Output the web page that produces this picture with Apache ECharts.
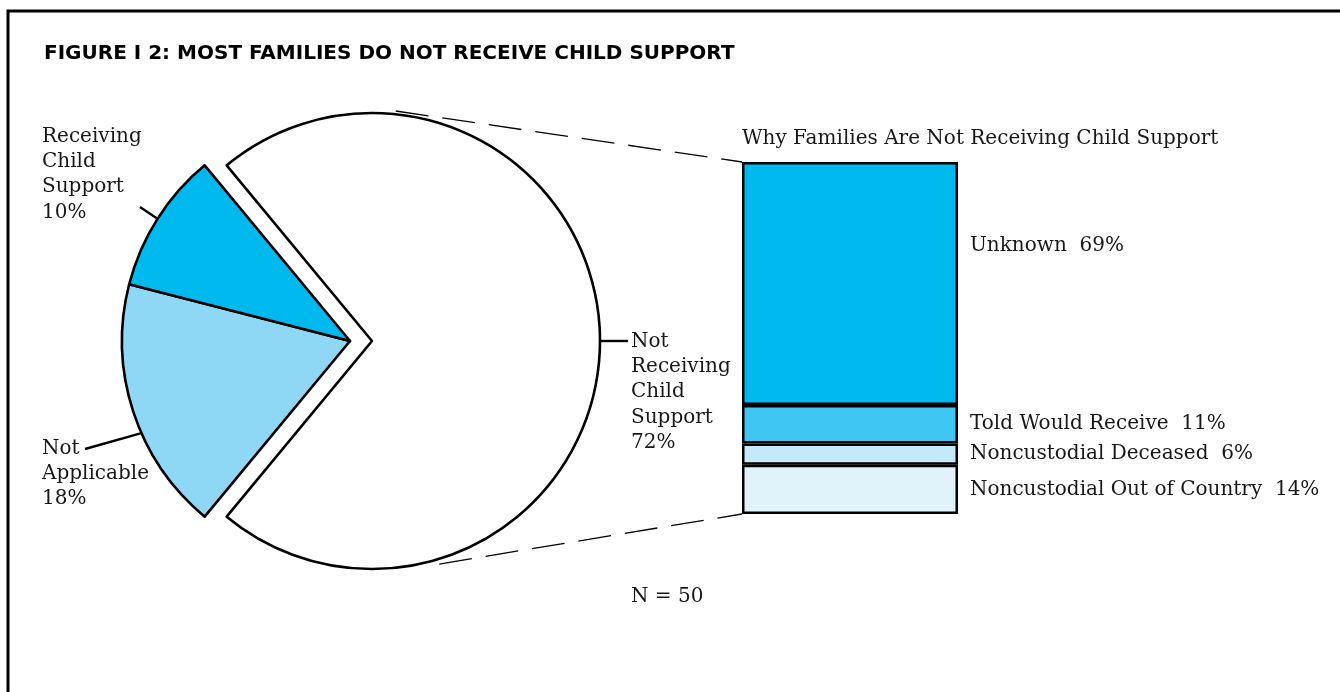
<!DOCTYPE html>
<html>
<head>
<meta charset="utf-8">
<script src="https://cdn.jsdelivr.net/npm/echarts@6/dist/echarts.min.js"></script>
<style>
  html, body { margin: 0; padding: 0; background: #ffffff; }
  #chart { width: 1340px; height: 692px; }
</style>
</head>
<body>
<div id="chart"></div>
<script>
// ---- data ----
const chartTitle = 'FIGURE I 2: MOST FAMILIES DO NOT RECEIVE CHILD SUPPORT';
const pieNames = ['Not\nReceiving\nChild\nSupport', 'Not\nApplicable', 'Receiving\nChild\nSupport'];
const pieValues = [72, 18, 10];
const pieColors = ['#ffffff', '#8ed8f6', '#00b9ef'];
const pieSplit = [false, true, true];          // slices pulled away from the main circle
const barTitle = 'Why Families Are Not Receiving Child Support';
const reasonNames = ['Unknown', 'Told Would Receive', 'Noncustodial Deceased', 'Noncustodial Out of Country'];
const reasonValues = [69, 11, 6, 14];
const reasonColors = ['#00b9ef', '#40c6f2', '#c4e9f8', '#e0f3fa'];
const sampleNote = 'N = 50';

// ---- layout ----
const SERIF = '"DejaVu Serif", serif';
const TEXT = '#1a1718';
const FS = 20;
const R = 228;
const mainCenter = [372, 341];
const splitCenter = [350, 341];
const grid = { left: 742, top: 162, width: 216, height: 352 };
const pieLabelPos = [[631, 329], [42, 436], [42, 124]];
const leaderFrac = [0.5, 0.41, 0.5];
const leaderEnd = [[628, 341], [85, 449], [140, 207]];
const unknownLift = -38;
const connectorShift = [-10, 30];   // along-line adjustment of the dashed connectors' circle ends

const total = pieValues.reduce((a, b) => a + b, 0);
const splitSum = pieValues.reduce((a, v, i) => a + (pieSplit[i] ? v : 0), 0);
const startAngle = 180 - splitSum / total * 180;   // split group centred on the left

function sliceAngle(i, frac) {
  let before = 0;
  for (let k = 0; k < i; k++) before += pieValues[k];
  const a0 = startAngle - before / total * 360;
  const a1 = a0 - pieValues[i] / total * 360;
  return a0 + (a1 - a0) * frac;
}

function pieData(showSplit) {
  return pieValues.map((v, i) => {
    const visible = pieSplit[i] === showSplit;
    return {
      name: pieNames[i],
      value: v,
      itemStyle: visible
        ? { color: pieColors[i], borderColor: '#000', borderWidth: 2.6 }
        : { color: 'rgba(0,0,0,0)', borderWidth: 0 },
      label: { show: visible }
    };
  });
}

function pieSeries(center, showSplit) {
  return {
    type: 'pie',
    silent: true,
    animation: false,
    center: center,
    radius: R,
    startAngle: startAngle,
    clockwise: true,
    avoidLabelOverlap: false,
    data: pieData(showSplit),
    label: {
      position: 'outside',
      formatter: p => p.name + '\n' + p.value + '%',
      fontFamily: SERIF,
      fontSize: FS,
      lineHeight: 25.3,
      color: TEXT,
      align: 'left'
    },
    labelLine: { show: false },
    labelLayout: p => ({
      x: pieLabelPos[p.dataIndex][0],
      y: pieLabelPos[p.dataIndex][1],
      align: 'left',
      verticalAlign: 'top'
    })
  };
}

// bars stack bottom-up, so the list is walked in reverse
const barSeries = reasonNames.map((n, i) => i).reverse().map(i => ({
  type: 'bar',
  name: reasonNames[i],
  stack: 'why',
  silent: true,
  animation: false,
  barWidth: '100%',
  data: [reasonValues[i]],
  itemStyle: { color: reasonColors[i], borderColor: '#000', borderWidth: 2.5 },
  label: {
    show: true,
    position: 'right',
    distance: 12,
    offset: [0, i === 0 ? unknownLift : 0],
    formatter: p => p.seriesName + '  ' + p.value + '%',
    fontFamily: SERIF,
    fontSize: FS,
    color: TEXT
  }
}));

const chart = echarts.init(document.getElementById('chart'), null, { renderer: 'canvas' });
chart.setOption({
  backgroundColor: '#ffffff',
  animation: false,
  grid: grid,
  xAxis: { type: 'category', data: [''], show: false },
  yAxis: { type: 'value', min: 0, max: 100, show: false },
  series: [pieSeries(mainCenter, false), pieSeries(splitCenter, true)].concat(barSeries)
});

// ---- annotations: frame, titles, leader lines, zoom connectors ----
function polar(c, r, deg) {
  const a = deg * Math.PI / 180;
  return [c[0] + r * Math.cos(a), c[1] - r * Math.sin(a)];
}
function tangentPoint(c, r, p, upper) {
  const dx = p[0] - c[0], dy = p[1] - c[1];
  const d = Math.hypot(dx, dy);
  const th = Math.atan2(dy, dx);
  const al = Math.acos(r / d);
  const t = upper ? th - al : th + al;
  return [c[0] + r * Math.cos(t), c[1] + r * Math.sin(t)];
}
function slide(a, b, dist) {
  const dx = b[0] - a[0], dy = b[1] - a[1];
  const L = Math.hypot(dx, dy);
  return [a[0] + dx / L * dist, a[1] + dy / L * dist];
}

const barTopY = chart.convertToPixel({ yAxisIndex: 0 }, 100);
const barBotY = chart.convertToPixel({ yAxisIndex: 0 }, 0);
const cornerTop = [grid.left, barTopY];
const cornerBot = [grid.left, barBotY];
const tTop = slide(tangentPoint(mainCenter, R + 3, cornerTop, true), cornerTop, connectorShift[0]);
const tBot = slide(tangentPoint(mainCenter, R + 3, cornerBot, false), cornerBot, connectorShift[1]);

const leaders = pieValues.map((v, i) => {
  const c = pieSplit[i] ? splitCenter : mainCenter;
  const s = polar(c, R, sliceAngle(i, leaderFrac[i]));
  return {
    type: 'polyline', silent: true,
    shape: { points: [s, leaderEnd[i]] },
    style: { stroke: '#000', lineWidth: 2.4, fill: null }
  };
});

chart.setOption({
  graphic: [
    {
      type: 'polyline', silent: true,
      shape: { points: [[8, 700], [8, 11], [1345, 11]] },
      style: { stroke: '#000', lineWidth: 3, fill: null }
    },
    {
      type: 'text', silent: true, x: 44, y: 54,
      style: { text: chartTitle, font: 'bold 20px "DejaVu Sans", sans-serif', fill: '#000', textVerticalAlign: 'middle' }
    },
    {
      type: 'text', silent: true, x: grid.left, y: 139,
      style: { text: barTitle, font: FS + 'px ' + SERIF, fill: TEXT, textVerticalAlign: 'middle' }
    },
    {
      type: 'text', silent: true, x: 631, y: 597,
      style: { text: sampleNote, font: FS + 'px ' + SERIF, fill: TEXT, textVerticalAlign: 'middle' }
    },
    {
      type: 'line', silent: true,
      shape: { x1: tTop[0], y1: tTop[1], x2: cornerTop[0], y2: cornerTop[1] },
      style: { stroke: '#000', lineWidth: 1.3, lineDash: [33, 14] }
    },
    {
      type: 'line', silent: true,
      shape: { x1: tBot[0], y1: tBot[1], x2: cornerBot[0], y2: cornerBot[1] },
      style: { stroke: '#000', lineWidth: 1.3, lineDash: [33, 14] }
    }
  ].concat(leaders)
});
</script>
</body>
</html>
